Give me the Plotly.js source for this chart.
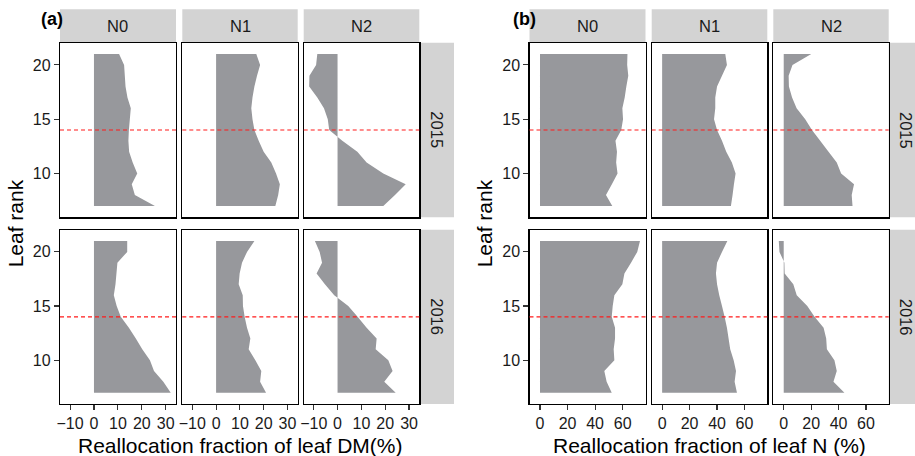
<!DOCTYPE html>
<html><head><meta charset="utf-8">
<script src="https://cdn.plot.ly/plotly-3.0.1.min.js"></script>
<style>html,body{margin:0;padding:0;background:#fff;overflow:hidden}</style>
</head><body><div id="chart" style="width:915px;height:456px"></div>
<script>
// ---------- data ----------
const ranks = [21,20,19,18,17,16,15,14,13,12,11,10,9,8,7];
const treatments = ['N0','N1','N2'];
const years = ['2015','2016'];
const threshold = 14;

// (a) Reallocation fraction of leaf DM (%)
const dm2015N0 = [10.5,12.6,12.9,13.2,14.0,15.4,15.0,14.6,14.4,14.7,16.2,18.1,15.8,17.1,25.5];
const dm2015N1 = [16.9,18.5,17.2,16.1,15.3,14.8,15.3,16.1,17.9,20.0,23.2,25.2,26.8,26.1,24.9];
const dm2015N2 = [-8.5,-9.0,-11.8,-11.9,-8.5,-5.7,-4.1,-3.5,2.0,8.3,12.2,19.2,28.6,24.1,19.2];
const dm2016N0 = [13.9,13.9,9.8,9.4,9.0,8.3,9.5,11.2,14.6,17.5,20.2,23.4,25.1,29.0,32.1];
const dm2016N1 = [16.1,13.0,10.9,9.9,9.5,11.2,11.3,12.0,13.0,14.4,13.7,16.5,19.0,18.5,21.0];
const dm2016N2 = [-9.5,-7.5,-6.5,-8.8,-5.3,-1.4,4.5,8.4,12.2,16.4,16.0,21.3,23.1,19.6,24.4];

// (b) Reallocation fraction of leaf N (%)
const n2015N0 = [63.5,63.3,64.1,62.7,61.5,59.8,60.3,59.0,54.8,55.9,55.3,56.3,52.2,47.9,52.5];
const n2015N1 = [46.0,47.2,43.6,40.0,38.7,38.7,37.8,40.0,43.6,46.7,50.8,53.5,52.3,51.3,50.1];
const n2015N2 = [20.1,6.4,3.6,3.8,6.1,9.4,15.7,20.6,26.6,32.7,38.7,41.9,51.3,49.6,50.2];
const n2016N0 = [72.6,70.6,66.1,61.3,59.8,54.0,52.8,52.1,54.5,54.5,53.5,54.0,46.7,48.4,52.1];
const n2016N1 = [47.5,43.6,40.0,39.2,40.0,41.6,43.6,45.5,47.2,48.4,49.6,52.1,53.8,52.8,54.5];
const n2016N2 = [-3.6,-3.1,0.5,0.7,7.0,9.5,17.2,22.5,29.1,31.0,31.5,37.0,38.7,36.3,44.3];

const xTicksDM = [-10,0,10,20,30];
const xTicksN = [0,20,40,60];
const yTicks = [10,15,20];
const xTitleDM = 'Reallocation fraction of leaf DM(%)';
const xTitleN = 'Reallocation fraction of leaf N (%)';
const yTitle = 'Leaf rank';

// ---------- layout geometry (pixels) ----------
const W = 915, H = 456;
const FONT = 'Liberation Sans, Arial, Helvetica, sans-serif';
const FILL = '#97989c';
const STRIP = '#d3d3d3';

const panels = [
  {label:'(a)', labelX:52, series:[[dm2015N0,dm2015N1,dm2015N2],[dm2016N0,dm2016N1,dm2016N2]],
   cols:[[60,176],[182.3,297.7],[303.7,419.3]], range:[-14.2,34.3], ticks:xTicksDM,
   xTitle:xTitleDM, yTitleX:15},
  {label:'(b)', labelX:524, series:[[n2015N0,n2015N1,n2015N2],[n2016N0,n2016N1,n2016N2]],
   cols:[[529.5,645.5],[651.7,767.3],[773.3,888.7]], range:[-7.6,76.6], ticks:xTicksN,
   xTitle:xTitleN, yTitleX:484}
];
const rowsY = [[42.7,217.3],[229.7,404]];
const stripTop = 9.3, stripRightW = 34.7;
const yRange = [5.95, 22.05];

const fx = px => px / W;
const fy = py => 1 - py / H;

const data = [];
const layout = {
  width: W, height: H,
  margin: {l:0, r:0, t:0, b:0},
  paper_bgcolor: '#fff', plot_bgcolor: '#fff',
  showlegend: false,
  font: {family: FONT, color: '#1a1a1a'},
  shapes: [], annotations: []
};

let idx = 0;
panels.forEach(p => {
  rowsY.forEach((ry, r) => {
    p.cols.forEach((cx, c) => {
      idx++;
      const xn = idx === 1 ? 'x' : 'x' + idx;
      const yn = idx === 1 ? 'y' : 'y' + idx;
      const xa = idx === 1 ? 'xaxis' : 'xaxis' + idx;
      const ya = idx === 1 ? 'yaxis' : 'yaxis' + idx;
      const bottom = r === rowsY.length - 1;
      const left = c === 0;
      layout[xa] = {
        domain: [fx(cx[0]), fx(cx[1])], range: p.range, anchor: yn,
        tickmode: 'array', tickvals: p.ticks,
        ticks: bottom ? 'outside' : '', ticklen: 5, tickwidth: 1.1, tickcolor: '#333',
        showticklabels: bottom, tickfont: {size: 16, color: '#1a1a1a', family: FONT},
        showline: true, mirror: true, linecolor: '#000', linewidth: 1.2,
        showgrid: false, zeroline: false, fixedrange: true
      };
      layout[ya] = {
        domain: [fy(ry[1]), fy(ry[0])], range: yRange, anchor: xn,
        tickmode: 'array', tickvals: yTicks,
        ticks: left ? 'outside' : '', ticklen: 5, tickwidth: 1.1, tickcolor: '#333',
        showticklabels: left, tickfont: {size: 16, color: '#1a1a1a', family: FONT},
        showline: true, mirror: true, linecolor: '#000', linewidth: 1.2,
        showgrid: false, zeroline: false, fixedrange: true
      };
      data.push({
        type: 'scatter', x: p.series[r][c], y: ranks, xaxis: xn, yaxis: yn,
        mode: 'none', fill: 'tozerox', fillcolor: FILL, hoverinfo: 'skip'
      });
      // threshold line
      layout.shapes.push({
        type: 'line', xref: xn + ' domain', yref: yn, x0: 0, x1: 1, y0: threshold, y1: threshold,
        line: {color: '#ff1a1a', width: 1.2, dash: '4px,3px'}
      });
      // top strip
      if (r === 0) {
        layout.shapes.push({type:'rect', xref:'paper', yref:'paper', layer:'below',
          x0: fx(cx[0]), x1: fx(cx[1]), y0: fy(ry[0]), y1: fy(stripTop),
          fillcolor: STRIP, line: {width: 0}});
        layout.annotations.push({xref:'paper', yref:'paper', x: fx((cx[0]+cx[1])/2), y: fy(26),
          text: treatments[c], showarrow: false, xanchor:'center', yanchor:'middle',
          font: {size: 16.5, color: '#1a1a1a', family: FONT}});
      }
    });
    // right strip
    const xr = p.cols[2][1];
    layout.shapes.push({type:'rect', xref:'paper', yref:'paper', layer:'below',
      x0: fx(xr), x1: fx(xr + stripRightW), y0: fy(ry[1]), y1: fy(ry[0]),
      fillcolor: STRIP, line: {width: 0}});
    layout.annotations.push({xref:'paper', yref:'paper', x: fx(xr + stripRightW/2), y: fy((ry[0]+ry[1])/2),
      text: years[r], textangle: 90, showarrow: false, xanchor:'center', yanchor:'middle',
      font: {size: 16.5, color: '#1a1a1a', family: FONT}});
  });
  // panel label
  layout.annotations.push({xref:'paper', yref:'paper', x: fx(p.labelX), y: fy(19.5),
    text: '<b>' + p.label + '</b>', showarrow: false, xanchor:'center', yanchor:'middle',
    font: {size: 18, color: '#000', family: FONT}});
  // axis titles
  layout.annotations.push({xref:'paper', yref:'paper', x: fx((p.cols[0][0]+p.cols[2][1])/2), y: fy(445),
    text: p.xTitle, showarrow: false, xanchor:'center', yanchor:'middle',
    font: {size: 21, color: '#000', family: FONT}});
  layout.annotations.push({xref:'paper', yref:'paper', x: fx(p.yTitleX), y: fy((rowsY[0][0]+rowsY[1][1])/2),
    text: yTitle, textangle: -90, showarrow: false, xanchor:'center', yanchor:'middle',
    font: {size: 21, color: '#000', family: FONT}});
});

Plotly.newPlot('chart', data, layout, {staticPlot: true, displayModeBar: false});
</script>
</body></html>
